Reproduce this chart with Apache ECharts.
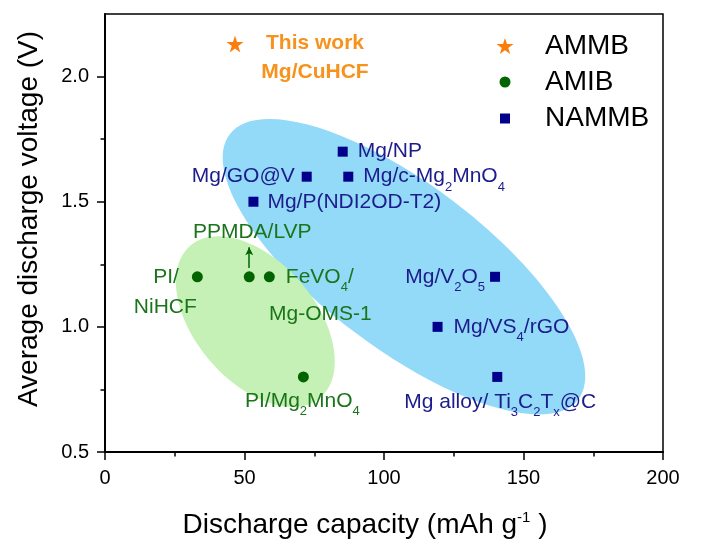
<!DOCTYPE html>
<html><head><meta charset="utf-8">
<script src="https://cdn.jsdelivr.net/npm/echarts@6/dist/echarts.min.js"></script>
<style>html,body{margin:0;padding:0;background:#fff}#c{width:707px;height:558px}</style>
</head><body><div id="c"></div>
<script>
// ---------------- data ----------------
const legendNames = ['AMMB', 'AMIB', 'NAMMB'];

const ammbX = [46.6];
const ammbY = [2.13];
const ammbLabels = ['This work\nMg/CuHCF'];

const amibX = [33.1, 51.7, 58.9, 71.1];
const amibY = [1.20, 1.20, 1.20, 0.80];
const amibLabels = ['PI/', 'PPMDA/LVP', 'FeVO{s|4}/', 'PI/Mg{s|2}MnO{s|4}'];
const amibExtraLabels = ['NiHCF', '', 'Mg-OMS-1', ''];

const nammbX = [85.2, 72.3, 87.2, 53.2, 139.8, 119.2, 140.6];
const nammbY = [1.70, 1.60, 1.60, 1.50, 1.20, 1.00, 0.80];
const nammbLabels = ['Mg/NP', 'Mg/GO@V', 'Mg/c-Mg{s|2}MnO{s|4}', 'Mg/P(NDI2OD-T2)',
  'Mg/V{s|2}O{s|5}', 'Mg/VS{s|4}/rGO', 'Mg alloy/ Ti{s|3}C{s|2}T{s|x}@C'];

const regionCenterX = [107.2, 53.9];
const regionCenterY = [1.240, 1.021];

const xTicks = [0, 50, 100, 150, 200];
const yTicks = [0.5, 1.0, 1.5, 2.0];
const yMinorTicks = [0.75, 1.25, 1.75];

// ---------------- styles ----------------
const FONT = '"Liberation Sans", Arial, Helvetica, sans-serif';
const NAVY = '#00008b', NAVY_TXT = '#1c1c8c';
const GREEN = '#006400', GREEN_TXT = '#1a751a';
const ORANGE = '#fb7d0c', ORANGE_TXT = '#f7921c';
const STAR = 'path://M0,-10L2.245,-3.09L9.511,-3.09L3.633,1.18L5.878,8.09L0,3.82L-5.878,8.09L-3.633,1.18L-9.511,-3.09L-2.245,-3.09Z';

const regionStyle = [
  { a: 219, b: 82, angle: 37.2, color: '#93d9f8' },
  { a: 100, b: 60, angle: 49.3, color: '#c6f1b6' }
];

const nammbLabelPos = [
  { position: 'right', distance: 10 },
  { position: 'left', distance: 7 },
  { position: 'right', distance: 10 },
  { position: 'right', distance: 9 },
  { position: 'left', distance: 5 },
  { position: 'right', distance: 11 },
  { position: 'inside', offset: [3, 25] }
];
const amibLabelPos = [
  { position: 'left', distance: 13 },
  { position: 'inside', offset: [3, -45] },
  { position: 'right', distance: 11 },
  { position: 'inside', offset: [-1, 24] }
];
const amibExtraOffset = [[-32, 30], null, [51, 37], null];

function richSub(color) {
  return { s: { fontSize: 13, padding: [21, 0, 0, 0], color: color, fontFamily: FONT, opacity: 1 } };
}

const chart = echarts.init(document.getElementById('c'));

const nammbData = nammbX.map((x, i) => ({
  value: [x, nammbY[i]],
  label: Object.assign({ show: true, formatter: nammbLabels[i], color: NAVY_TXT, opacity: 1, fontSize: 21, fontFamily: FONT, rich: richSub(NAVY_TXT) }, nammbLabelPos[i])
}));
const amibData = amibX.map((x, i) => ({
  value: [x, amibY[i]],
  label: Object.assign({ show: true, formatter: amibLabels[i], color: GREEN_TXT, opacity: 1, fontSize: 21, fontFamily: FONT, rich: richSub(GREEN_TXT) }, amibLabelPos[i])
}));
const ammbData = ammbX.map((x, i) => ({
  value: [x, ammbY[i]],
  label: { show: true, formatter: ammbLabels[i], position: 'inside', offset: [80, 14], align: 'center', opacity: 1,
    color: ORANGE_TXT, fontSize: 21, fontWeight: 'bold', fontFamily: FONT, lineHeight: 29 }
}));
const amibExtra = [];
amibExtraLabels.forEach((t, i) => {
  if (!t) return;
  amibExtra.push({
    coord: [amibX[i], amibY[i]],
    label: { show: true, position: 'inside', offset: amibExtraOffset[i], formatter: t, color: GREEN_TXT, opacity: 1, fontSize: 21, fontFamily: FONT }
  });
});

const axisLine = { show: true, lineStyle: { color: '#000', width: 2 } };
const legendText = (pad) => ({ fontSize: 28, color: '#000', fontFamily: FONT, lineHeight: 30, padding: [0, 0, 0, pad] });

const option = {
  animation: false,
  backgroundColor: '#fff',
  grid: { left: 105, right: 44, top: 14, bottom: 106, show: true, borderColor: '#000', borderWidth: 1.5, backgroundColor: 'transparent' },
  legend: [
    { data: [{ name: legendNames[0], icon: STAR }], left: 496.5, top: 31, itemWidth: 17, itemHeight: 17, padding: 0, selectedMode: false,
      itemStyle: { opacity: 1 }, textStyle: legendText(26.5) },
    { data: [{ name: legendNames[1], icon: 'circle' }], left: 499.5, top: 67, itemWidth: 11, itemHeight: 11, padding: 0, selectedMode: false,
      itemStyle: { opacity: 1 }, textStyle: legendText(29.5) },
    { data: [{ name: legendNames[2], icon: 'rect' }], left: 500, top: 103.5, itemWidth: 10, itemHeight: 10, padding: 0, selectedMode: false,
      itemStyle: { opacity: 1 }, textStyle: legendText(30) }
  ],
  xAxis: [{
    type: 'value', min: xTicks[0], max: xTicks[xTicks.length - 1], interval: xTicks[1] - xTicks[0],
    position: 'bottom',
    axisLine: axisLine,
    axisTick: { show: true, inside: false, length: 8, lineStyle: { color: '#000', width: 1.5 } },
    minorTick: { show: true, splitNumber: 2, length: 4.5, lineStyle: { color: '#000', width: 1.5 } },
    splitLine: { show: false }, minorSplitLine: { show: false },
    axisLabel: { show: true, margin: 16, fontSize: 20, color: '#000', fontFamily: FONT },
    name: 'Discharge capacity (mAh g{sup|-1} )', nameLocation: 'middle', nameGap: 58,
    nameTextStyle: { fontSize: 28, color: '#000', fontFamily: FONT, padding: [0, 38, 0, 0],
      rich: { sup: { fontSize: 15, color: '#000', fontFamily: FONT, padding: [0, 0, 15, 0] } } }
  }],
  yAxis: [{
    type: 'value', min: 0.5, max: 2.25, interval: 0.5,
    position: 'left',
    axisLine: axisLine,
    axisTick: { show: true, inside: false, length: 8, customValues: yTicks, lineStyle: { color: '#000', width: 1.5 } },
    splitLine: { show: false },
    axisLabel: { show: true, margin: 16, fontSize: 20, color: '#000', fontFamily: FONT, customValues: yTicks,
      formatter: v => v.toFixed(1) },
    name: 'Average discharge voltage (V)', nameLocation: 'middle', nameGap: 62,
    nameTextStyle: { fontSize: 28, color: '#000', fontFamily: FONT, padding: [0, 0, 0, 28] }
  }, {
    type: 'value', min: 0.5, max: 2.25, position: 'left',
    axisLine: { show: false },
    axisTick: { show: true, inside: false, length: 4.5, customValues: yMinorTicks, lineStyle: { color: '#000', width: 1.5 } },
    axisLabel: { show: false }, splitLine: { show: false }
  }],
  series: [
    {
      type: 'custom', name: 'regions', silent: true, z: 1, coordinateSystem: 'cartesian2d',
      xAxisIndex: 0, yAxisIndex: 0,
      data: regionCenterX.map((x, i) => [x, regionCenterY[i], i]),
      renderItem: function (params, api) {
        const i = api.value(2);
        const c = api.coord([api.value(0), api.value(1)]);
        const st = regionStyle[i];
        return {
          type: 'ellipse', x: c[0], y: c[1], rotation: -st.angle * Math.PI / 180,
          shape: { cx: 0, cy: 0, rx: st.a, ry: st.b },
          style: { fill: st.color }, z2: i
        };
      }
    },
    {
      type: 'scatter', name: legendNames[2], symbol: 'rect', symbolSize: 10, z: 3,
      itemStyle: { color: NAVY, opacity: 1 }, emphasis: { disabled: true },
      data: nammbData
    },
    {
      type: 'scatter', name: legendNames[1], symbol: 'circle', symbolSize: 11, z: 3,
      itemStyle: { color: GREEN, opacity: 1 }, emphasis: { disabled: true },
      data: amibData,
      markLine: {
        silent: true, animation: false, symbol: ['none', 'arrow'], symbolSize: [6, 8],
        lineStyle: { color: GREEN, width: 1.5, type: 'solid', opacity: 1 }, label: { show: false },
        emphasis: { disabled: true },
        data: [[{ coord: [amibX[1], amibY[1] + 0.035] }, { coord: [amibX[1], amibY[1] + 0.118] }]]
      },
      markPoint: {
        silent: true, animation: false, symbol: 'circle', symbolSize: 1,
        itemStyle: { color: 'transparent' },
        data: amibExtra
      }
    },
    {
      type: 'scatter', name: legendNames[0], symbol: STAR, symbolSize: 17, z: 3,
      itemStyle: { color: ORANGE, opacity: 1 }, emphasis: { disabled: true },
      data: ammbData
    }
  ]
};
chart.setOption(option);
</script>
</body></html>
